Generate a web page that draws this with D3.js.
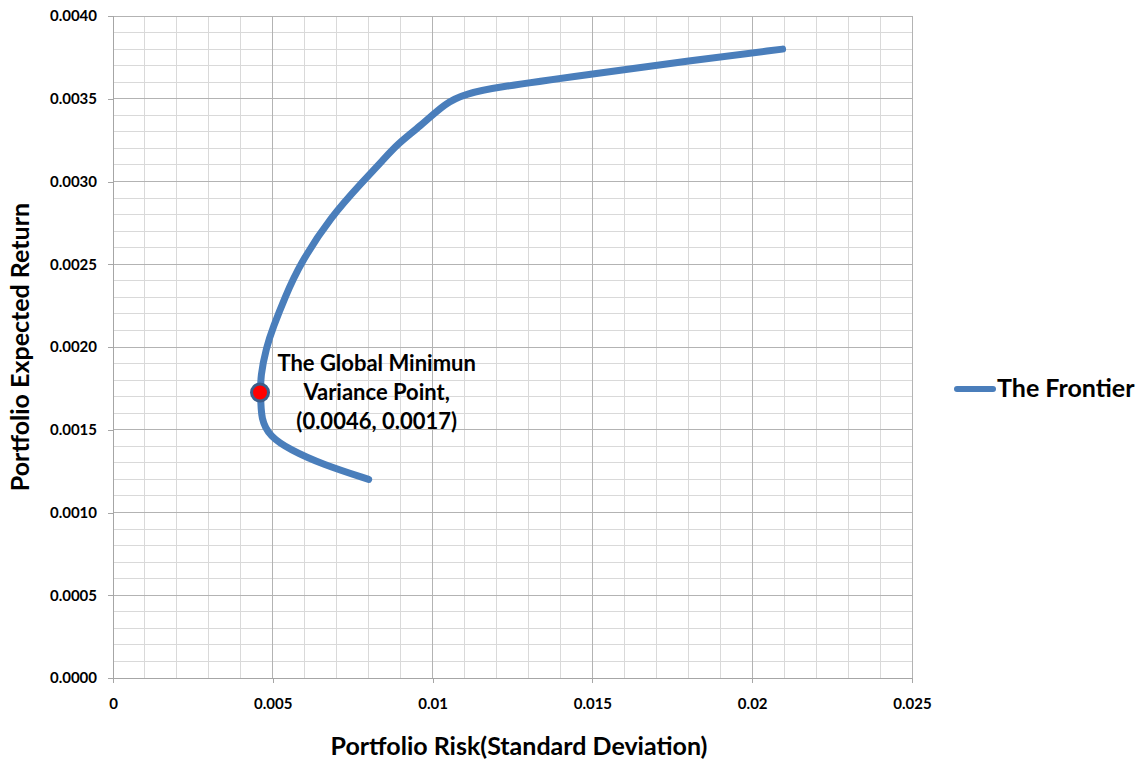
<!DOCTYPE html>
<html><head><meta charset="utf-8">
<script src="https://cdn.jsdelivr.net/npm/d3@7"></script>
<style>body{margin:0;background:#fff;} svg{display:block;font-family:Lato,"Open Sans",sans-serif;font-weight:bold;}</style>
</head><body>
<svg id="chart" width="1142" height="762"></svg>
<script>
const riskValues = [0.0080, 0.00656, 0.00553, 0.00491, 0.00463, 0.00462, 0.00461, 0.00480, 0.00501, 0.00538, 0.00584, 0.00683, 0.00782, 0.00845, 0.00892, 0.00959, 0.01043, 0.01105, 0.01199, 0.01501, 0.01803, 0.02095];
const returnValues = [0.00120, 0.00129, 0.00138, 0.00146, 0.00156, 0.00172, 0.00182, 0.00200, 0.00212, 0.00230, 0.00250, 0.00279, 0.00300, 0.00313, 0.00323, 0.00333, 0.00348, 0.00353, 0.00357, 0.00365, 0.00373, 0.00380];
const minPoint = [0.0046, 0.001725];
const xTicks = [0, 0.005, 0.01, 0.015, 0.02, 0.025];
const xTickLabels = ["0", "0.005", "0.01", "0.015", "0.02", "0.025"];
const yTicks = [0, 0.0005, 0.001, 0.0015, 0.002, 0.0025, 0.003, 0.0035, 0.004];
const annotationLines = ["The Global Minimun", "Variance Point,", "(0.0046, 0.0017)"];
const seriesName = "The Frontier";
const xTitle = "Portfolio Risk(Standard Deviation)";
const yTitle = "Portfolio Expected Return";

const svg = d3.select("#chart");
const L = 113, R = 912, T = 16, B = 678;
const x = d3.scaleLinear().domain([0, 0.025]).range([L, R]);
const y = d3.scaleLinear().domain([0, 0.004]).range([B, T]);

// minor grid
const g = svg.append("g");
g.selectAll("line.mx").data(d3.range(1, 25).map(i => i * 0.001)).join("line")
  .attr("x1", d => x(d)).attr("x2", d => x(d)).attr("y1", T).attr("y2", B)
  .attr("stroke", "#d9d9d9").attr("stroke-width", 1).attr("shape-rendering", "crispEdges");
g.selectAll("line.my").data(d3.range(1, 40).map(i => i * 0.0001)).join("line")
  .attr("y1", d => y(d)).attr("y2", d => y(d)).attr("x1", L).attr("x2", R)
  .attr("stroke", "#d9d9d9").attr("stroke-width", 1).attr("shape-rendering", "crispEdges");
// major grid
g.append("g").selectAll("line").data(xTicks.slice(1)).join("line")
  .attr("x1", d => x(d)).attr("x2", d => x(d)).attr("y1", T).attr("y2", B)
  .attr("stroke", "#b3b3b3").attr("shape-rendering", "crispEdges");
g.append("g").selectAll("line").data(yTicks.slice(1)).join("line")
  .attr("y1", d => y(d)).attr("y2", d => y(d)).attr("x1", L).attr("x2", R)
  .attr("stroke", "#b3b3b3").attr("shape-rendering", "crispEdges");

// axes
const xAxis = svg.append("g").attr("transform", `translate(0,${B})`)
  .call(d3.axisBottom(x).tickValues(xTicks).tickFormat((d, i) => xTickLabels[i]).tickSize(5).tickPadding(15));
const yAxis = svg.append("g").attr("transform", `translate(${L},0)`)
  .call(d3.axisLeft(y).tickValues(yTicks).tickFormat(d3.format(".4f")).tickSize(5).tickPadding(11));
[xAxis, yAxis].forEach(a => {
  a.select(".domain").attr("stroke", "#a6a6a6").attr("shape-rendering", "crispEdges");
  a.selectAll(".tick line").attr("stroke", "#a6a6a6").attr("shape-rendering", "crispEdges");
  a.selectAll("text").attr("font-family", "Lato, sans-serif").attr("font-weight", "bold")
    .attr("font-size", 15).attr("fill", "#000");
});

// curve
const pts = riskValues.map((r, i) => [r, returnValues[i]]);
const line = d3.line().x(d => x(d[0])).y(d => y(d[1])).curve(d3.curveBasis);
svg.append("path").datum(pts).attr("d", line).attr("fill", "none")
  .attr("stroke", "#4a7ebb").attr("stroke-width", 7).attr("stroke-linecap", "round").attr("stroke-linejoin", "round");

// marker
svg.append("circle").attr("cx", x(minPoint[0])).attr("cy", y(minPoint[1])).attr("r", 8.5)
  .attr("fill", "#ff0000").attr("stroke", "#3b5f8c").attr("stroke-width", 3);

// annotation
const ann = svg.append("text").attr("font-size", 22).attr("text-anchor", "middle").attr("fill", "#000");
annotationLines.forEach((t, i) => {
  ann.append("tspan").attr("x", x(0.00825)).attr("y", y(0.001854) + i * 29).text(t);
});

// titles
svg.append("text").attr("x", 519).attr("y", 755).attr("text-anchor", "middle")
  .attr("font-size", 25).attr("fill", "#000").text(xTitle);
svg.append("text").attr("transform", `translate(29,${(T + B) / 2})rotate(-90)`).attr("text-anchor", "middle")
  .attr("font-size", 25).attr("fill", "#000").text(yTitle);

// legend
const lg = svg.append("g").attr("transform", "translate(957,389)");
lg.append("line").attr("x1", 0).attr("x2", 36).attr("y1", 0).attr("y2", 0)
  .attr("stroke", "#4a7ebb").attr("stroke-width", 6).attr("stroke-linecap", "round");
lg.append("text").attr("x", 40).attr("y", 8).attr("font-size", 25).attr("fill", "#000").text(seriesName);
</script>
</body></html>
